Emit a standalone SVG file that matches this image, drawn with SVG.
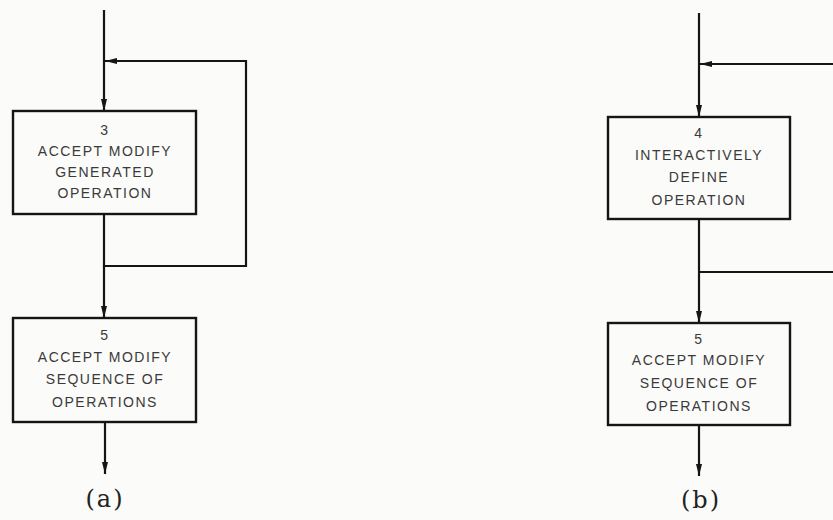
<svg xmlns="http://www.w3.org/2000/svg" width="833" height="520" viewBox="0 0 833 520">
<defs>
<style>
.bg{fill:#fbfbf9}
.box{fill:none;stroke:#151515;stroke-width:2.4}
.ln{fill:none;stroke:#151515;stroke-width:2.2}
.t{font-family:"Liberation Sans",Arial,sans-serif;font-size:14px;fill:#3a3a3a;text-anchor:middle;letter-spacing:1.5px}
.cap{font-family:"DejaVu Serif","Liberation Serif",serif;font-size:24px;fill:#222;text-anchor:middle;letter-spacing:2px}
</style>
<marker id="ah" viewBox="0 0 12 6" refX="12" refY="3" markerWidth="12" markerHeight="6" markerUnits="userSpaceOnUse" orient="auto">
<path d="M0,0 L12,3 L0,6 z" fill="#151515"/>
</marker>
</defs>
<rect class="bg" x="0" y="0" width="833" height="520"/>
<g id="connectors">
<path class="ln" d="M104,10 V61"/>
<path class="ln" d="M104,61 V111" marker-end="url(#ah)"/>
<path class="ln" d="M104,214 V266 H246 V61 H105" marker-end="url(#ah)"/>
<path class="ln" d="M104,266 V318" marker-end="url(#ah)"/>
<path class="ln" d="M105,422 V474" marker-end="url(#ah)"/>
<path class="ln" d="M699,13 V117" marker-end="url(#ah)"/>
<path class="ln" d="M833,64 H700" marker-end="url(#ah)"/>
<path class="ln" d="M699,219 V323" marker-end="url(#ah)"/>
<path class="ln" d="M699,272 H833"/>
<path class="ln" d="M699,425 V476" marker-end="url(#ah)"/>
</g>
<g id="node-a3">
<rect class="box" x="13" y="111" width="183" height="103"/>
<text class="t" x="105" y="135">3</text>
<text class="t" x="105" y="156">ACCEPT MODIFY</text>
<text class="t" x="105" y="177">GENERATED</text>
<text class="t" x="105" y="198">OPERATION</text>
</g>
<g id="node-a5">
<rect class="box" x="13" y="318" width="183" height="104"/>
<text class="t" x="105" y="340">5</text>
<text class="t" x="105" y="362">ACCEPT MODIFY</text>
<text class="t" x="105" y="384">SEQUENCE OF</text>
<text class="t" x="105" y="407">OPERATIONS</text>
</g>
<g id="node-b4">
<rect class="box" x="608" y="117" width="182" height="102"/>
<text class="t" x="699" y="138">4</text>
<text class="t" x="699" y="160">INTERACTIVELY</text>
<text class="t" x="699" y="182">DEFINE</text>
<text class="t" x="699" y="205">OPERATION</text>
</g>
<g id="node-b5">
<rect class="box" x="608" y="323" width="182" height="102"/>
<text class="t" x="699" y="344">5</text>
<text class="t" x="699" y="365">ACCEPT MODIFY</text>
<text class="t" x="699" y="388">SEQUENCE OF</text>
<text class="t" x="699" y="411">OPERATIONS</text>
</g>
<g id="captions">
<text class="cap" x="105" y="507">(a)</text>
<text class="cap" x="701" y="508">(b)</text>
</g>
</svg>
